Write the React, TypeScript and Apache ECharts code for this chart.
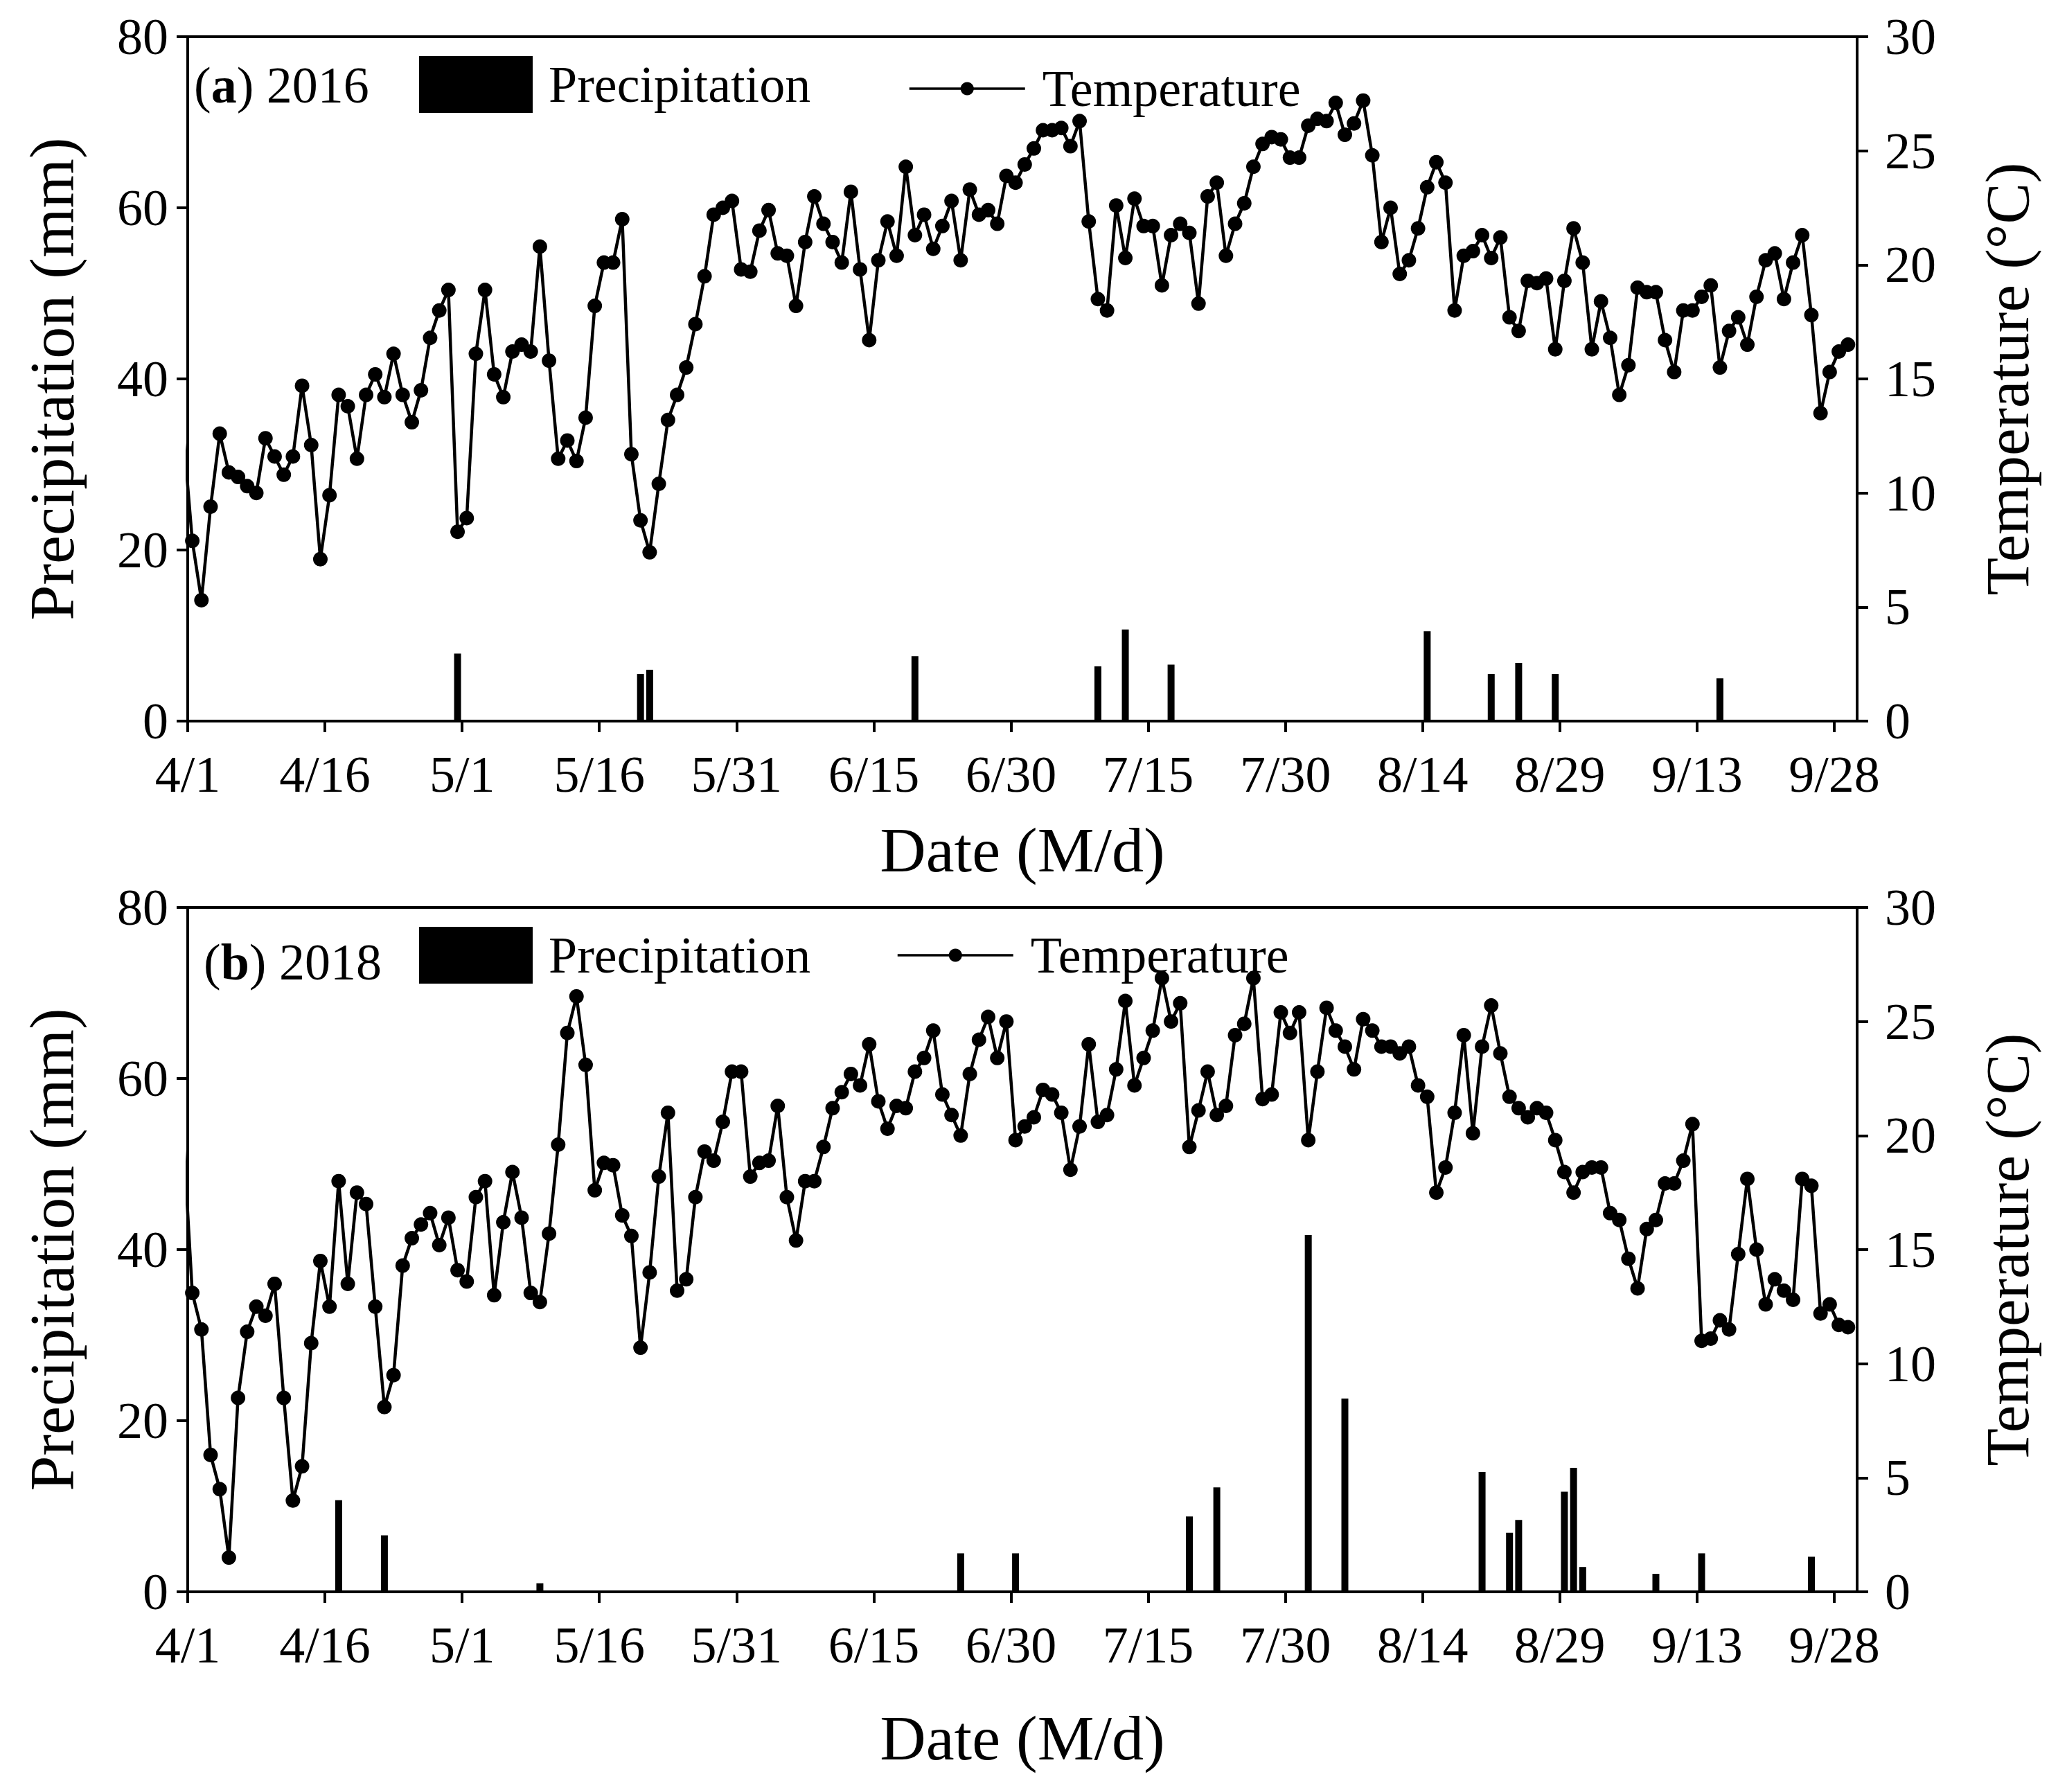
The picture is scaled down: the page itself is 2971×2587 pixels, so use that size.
import React, { useEffect, useRef } from "react";
import * as echarts from "echarts";

// ---------- data ----------
const tickDays = [0, 15, 30, 45, 60, 75, 90, 105, 120, 135, 150, 165, 180];
const tickLabels = ["4/1", "4/16", "5/1", "5/16", "5/31", "6/15", "6/30", "7/15", "7/30", "8/14", "8/29", "9/13", "9/28"];

// daily mean temperature (°C) from 4/1, plus the value of the day before (line enters from the axis)
const temp2016Prev = 12.7;
const temp2016 = [
  7.9, 5.3, 9.4, 12.6, 10.9, 10.7, 10.3, 10.0, 12.4, 11.6,
  10.8, 11.6, 14.7, 12.1, 7.1, 9.9, 14.3, 13.8, 11.5, 14.3,
  15.2, 14.2, 16.1, 14.3, 13.1, 14.5, 16.8, 18.0, 18.9, 8.3,
  8.9, 16.1, 18.9, 15.2, 14.2, 16.2, 16.5, 16.2, 20.8, 15.8,
  11.5, 12.3, 11.4, 13.3, 18.2, 20.1, 20.1, 22.0, 11.7, 8.8,
  7.4, 10.4, 13.2, 14.3, 15.5, 17.4, 19.5, 22.2, 22.5, 22.8,
  19.8, 19.7, 21.5, 22.4, 20.5, 20.4, 18.2, 21.0, 23.0, 21.8,
  21.0, 20.1, 23.2, 19.8, 16.7, 20.2, 21.9, 20.4, 24.3, 21.3,
  22.2, 20.7, 21.7, 22.8, 20.2, 23.3, 22.2, 22.4, 21.8, 23.9,
  23.6, 24.4, 25.1, 25.9, 25.9, 26.0, 25.2, 26.3, 21.9, 18.5,
  18.0, 22.6, 20.3, 22.9, 21.7, 21.7, 19.1, 21.3, 21.8, 21.4,
  18.3, 23.0, 23.6, 20.4, 21.8, 22.7, 24.3, 25.3, 25.6, 25.5,
  24.7, 24.7, 26.1, 26.4, 26.3, 27.1, 25.7, 26.2, 27.2, 24.8,
  21.0, 22.5, 19.6, 20.2, 21.6, 23.4, 24.5, 23.6, 18.0, 20.4,
  20.6, 21.3, 20.3, 21.2, 17.7, 17.1, 19.3, 19.2, 19.4, 16.3,
  19.3, 21.6, 20.1, 16.3, 18.4, 16.8, 14.3, 15.6, 19.0, 18.8,
  18.8, 16.7, 15.3, 18.0, 18.0, 18.6, 19.1, 15.5, 17.1, 17.7,
  16.5, 18.6, 20.2, 20.5, 18.5, 20.1, 21.3, 17.8, 13.5, 15.3,
  16.2, 16.5,
];
const rainDays2016 = [29, 49, 50, 79, 99, 102, 107, 135, 142, 145, 149, 167];
const rainMm2016 = [7.9, 5.5, 6.0, 7.6, 6.4, 10.7, 6.6, 10.5, 5.5, 6.8, 5.5, 5.0];

const temp2018Prev = 20.1;
const temp2018 = [
  13.1, 11.5, 6.0, 4.5, 1.5, 8.5, 11.4, 12.5, 12.1, 13.5,
  8.5, 4.0, 5.5, 10.9, 14.5, 12.5, 18.0, 13.5, 17.5, 17.0,
  12.5, 8.1, 9.5, 14.3, 15.5, 16.1, 16.6, 15.2, 16.4, 14.1,
  13.6, 17.3, 18.0, 13.0, 16.2, 18.4, 16.4, 13.1, 12.7, 15.7,
  19.6, 24.5, 26.1, 23.1, 17.6, 18.8, 18.7, 16.5, 15.6, 10.7,
  14.0, 18.2, 21.0, 13.2, 13.7, 17.3, 19.3, 18.9, 20.6, 22.8,
  22.8, 18.2, 18.8, 18.9, 21.3, 17.3, 15.4, 18.0, 18.0, 19.5,
  21.2, 21.9, 22.7, 22.2, 24.0, 21.5, 20.3, 21.3, 21.2, 22.8,
  23.4, 24.6, 21.8, 20.9, 20.0, 22.7, 24.2, 25.2, 23.4, 25.0,
  19.8, 20.4, 20.8, 22.0, 21.8, 21.0, 18.5, 20.4, 24.0, 20.6,
  20.9, 22.9, 25.9, 22.2, 23.4, 24.6, 26.9, 25.0, 25.8, 19.5,
  21.1, 22.8, 20.9, 21.3, 24.4, 24.9, 26.9, 21.6, 21.8, 25.4,
  24.5, 25.4, 19.8, 22.8, 25.6, 24.6, 23.9, 22.9, 25.1, 24.6,
  23.9, 23.9, 23.6, 23.9, 22.2, 21.7, 17.5, 18.6, 21.0, 24.4,
  20.1, 23.9, 25.7, 23.6, 21.7, 21.2, 20.8, 21.2, 21.0, 19.8,
  18.4, 17.5, 18.4, 18.6, 18.6, 16.6, 16.3, 14.6, 13.3, 15.9,
  16.3, 17.9, 17.9, 18.9, 20.5, 11.0, 11.1, 11.9, 11.5, 14.8,
  18.1, 15.0, 12.6, 13.7, 13.2, 12.8, 18.1, 17.8, 12.2, 12.6,
  11.7, 11.6,
];
const rainDays2018 = [16, 21, 38, 84, 90, 109, 112, 122, 126, 141, 144, 145, 150, 151, 152, 160, 165, 177];
const rainMm2018 = [10.7, 6.6, 1.0, 4.5, 4.5, 8.8, 12.2, 41.7, 22.6, 14.0, 6.9, 8.4, 11.7, 14.5, 2.9, 2.1, 4.5, 4.1];

// ---------- layout / style ----------
const W = 2955;
const H = 2571;
const FONT = "Liberation Serif";
const TICK_FS = 74;
const NAME_FS = 92;
const GRID_LEFT = 263;
const GRID_W = 2410;
const GRID_H = 988;
const DAY_OFFSET = 0.5;

function tickFormatter(v: number) {
  const k = tickDays.indexOf(Math.round(v));
  return k >= 0 && Math.abs(v - tickDays[k]) < 1e-6 ? tickLabels[k] : "";
}

function buildPanel(idx: number, top: number, temps: number[], prev: number, rDays: number[], rMm: number[], xNameGap: number) {
  const axisLine = { show: true, onZero: false, lineStyle: { color: "#000", width: 4 } };
  const axisTick = { show: true, inside: false, length: 16, lineStyle: { color: "#000", width: 4 } };
  const label = { fontFamily: FONT, fontSize: TICK_FS, color: "#000" };
  const grid = {
    left: GRID_LEFT,
    top,
    width: GRID_W,
    height: GRID_H,
    show: true,
    borderColor: "#000",
    borderWidth: 4,
    backgroundColor: "transparent",
    containLabel: false,
    outerBoundsMode: "none",
  };
  const xAxis = {
    gridIndex: idx,
    type: "value",
    min: 0,
    max: 182.5,
    axisLine,
    axisTick: { ...axisTick, customValues: tickDays },
    axisLabel: { ...label, margin: 40, customValues: tickDays, formatter: tickFormatter, hideOverlap: false, showMinLabel: true, showMaxLabel: true },
    splitLine: { show: false },
    name: "Date (M/d)",
    nameLocation: "middle",
    nameGap: xNameGap,
    nameTextStyle: { fontFamily: FONT, fontSize: NAME_FS, color: "#000" },
  };
  const yLeft = {
    gridIndex: idx,
    type: "value",
    position: "left",
    min: 0,
    max: 80,
    interval: 20,
    axisLine,
    axisTick,
    axisLabel: { ...label, margin: 28 },
    splitLine: { show: false },
    name: "Precipitation (mm)",
    nameLocation: "middle",
    nameGap: 150,
    nameTextStyle: { fontFamily: FONT, fontSize: NAME_FS, color: "#000" },
  };
  const yRight = {
    gridIndex: idx,
    type: "value",
    position: "right",
    min: 0,
    max: 30,
    interval: 5,
    axisLine,
    axisTick,
    axisLabel: { ...label, margin: 40 },
    splitLine: { show: false },
    name: "Temperature (°C)",
    nameLocation: "middle",
    nameGap: 172,
    nameTextStyle: { fontFamily: FONT, fontSize: 89, color: "#000" },
  };
  const bar = {
    type: "bar",
    name: "Precipitation",
    xAxisIndex: idx,
    yAxisIndex: idx * 2,
    data: rDays.map((d, i) => [d + DAY_OFFSET, rMm[i]]),
    barWidth: 10,
    itemStyle: { color: "#000" },
    silent: true,
  };
  const line = {
    type: "line",
    name: "Temperature",
    xAxisIndex: idx,
    yAxisIndex: idx * 2 + 1,
    data: [
      { value: [DAY_OFFSET - 1, prev], symbol: "none" },
      ...temps.map((t, i) => [i + DAY_OFFSET, t]),
    ],
    symbol: "circle",
    symbolSize: 21,
    lineStyle: { color: "#000", width: 4.5 },
    itemStyle: { color: "#000" },
    clip: true,
    silent: true,
    z: 3,
  };
  return { grid, xAxis, yAxes: [yLeft, yRight], series: [bar, line] };
}

function legendPair(topRect: number, lineLeft: number, lineTop: number) {
  return [
    {
      data: ["Precipitation"],
      left: 597,
      top: topRect,
      orient: "horizontal",
      padding: 0,
      itemWidth: 164,
      itemHeight: 82,
      icon: "rect",
      selectedMode: false,
      textStyle: { fontFamily: FONT, fontSize: TICK_FS, color: "#000", padding: [0, 0, 0, 18] },
    },
    {
      data: ["Temperature"],
      left: lineLeft,
      top: lineTop,
      orient: "horizontal",
      padding: 0,
      itemWidth: 167,
      itemHeight: 24,
      selectedMode: false,
      lineStyle: { width: 3.5 },
      textStyle: { fontFamily: FONT, fontSize: TICK_FS, color: "#000", padding: [0, 0, 0, 20] },
    },
  ];
}

export default function App() {
  const ref = useRef<HTMLDivElement>(null);
  useEffect(() => {
    if (!ref.current) return;
    const chart = echarts.init(ref.current, null, { renderer: "svg", width: W, height: H });
    const a = buildPanel(0, 45, temp2016, temp2016Prev, rainDays2016, rainMm2016, 140);
    const b = buildPanel(1, 1302, temp2018, temp2018Prev, rainDays2018, rainMm2018, 165);
    const option: any = {
      animation: false,
      backgroundColor: "#fff",
      textStyle: { fontFamily: FONT },
      grid: [a.grid, b.grid],
      xAxis: [a.xAxis, b.xAxis],
      yAxis: [...a.yAxes, ...b.yAxes],
      series: [...a.series, ...b.series],
      legend: [...legendPair(73, 1303, 83), ...legendPair(1330, 1286, 1334)],
      graphic: [
        {
          type: "text",
          x: 272,
          y: 115,
          style: {
            text: "({b|a}) 2016",
            fontFamily: FONT,
            fontSize: TICK_FS,
            fill: "#000",
            verticalAlign: "middle",
            rich: { b: { fontFamily: FONT, fontSize: TICK_FS, fontWeight: "bold", fill: "#000" } },
          },
        },
        {
          type: "text",
          x: 286,
          y: 1381,
          style: {
            text: "({b|b}) 2018",
            fontFamily: FONT,
            fontSize: TICK_FS,
            fill: "#000",
            verticalAlign: "middle",
            rich: { b: { fontFamily: FONT, fontSize: TICK_FS, fontWeight: "bold", fill: "#000" } },
          },
        },
      ],
    };
    chart.setOption(option);
    return () => chart.dispose();
  }, []);
  return <div ref={ref} style={{ width: W, height: H }} />;
}
